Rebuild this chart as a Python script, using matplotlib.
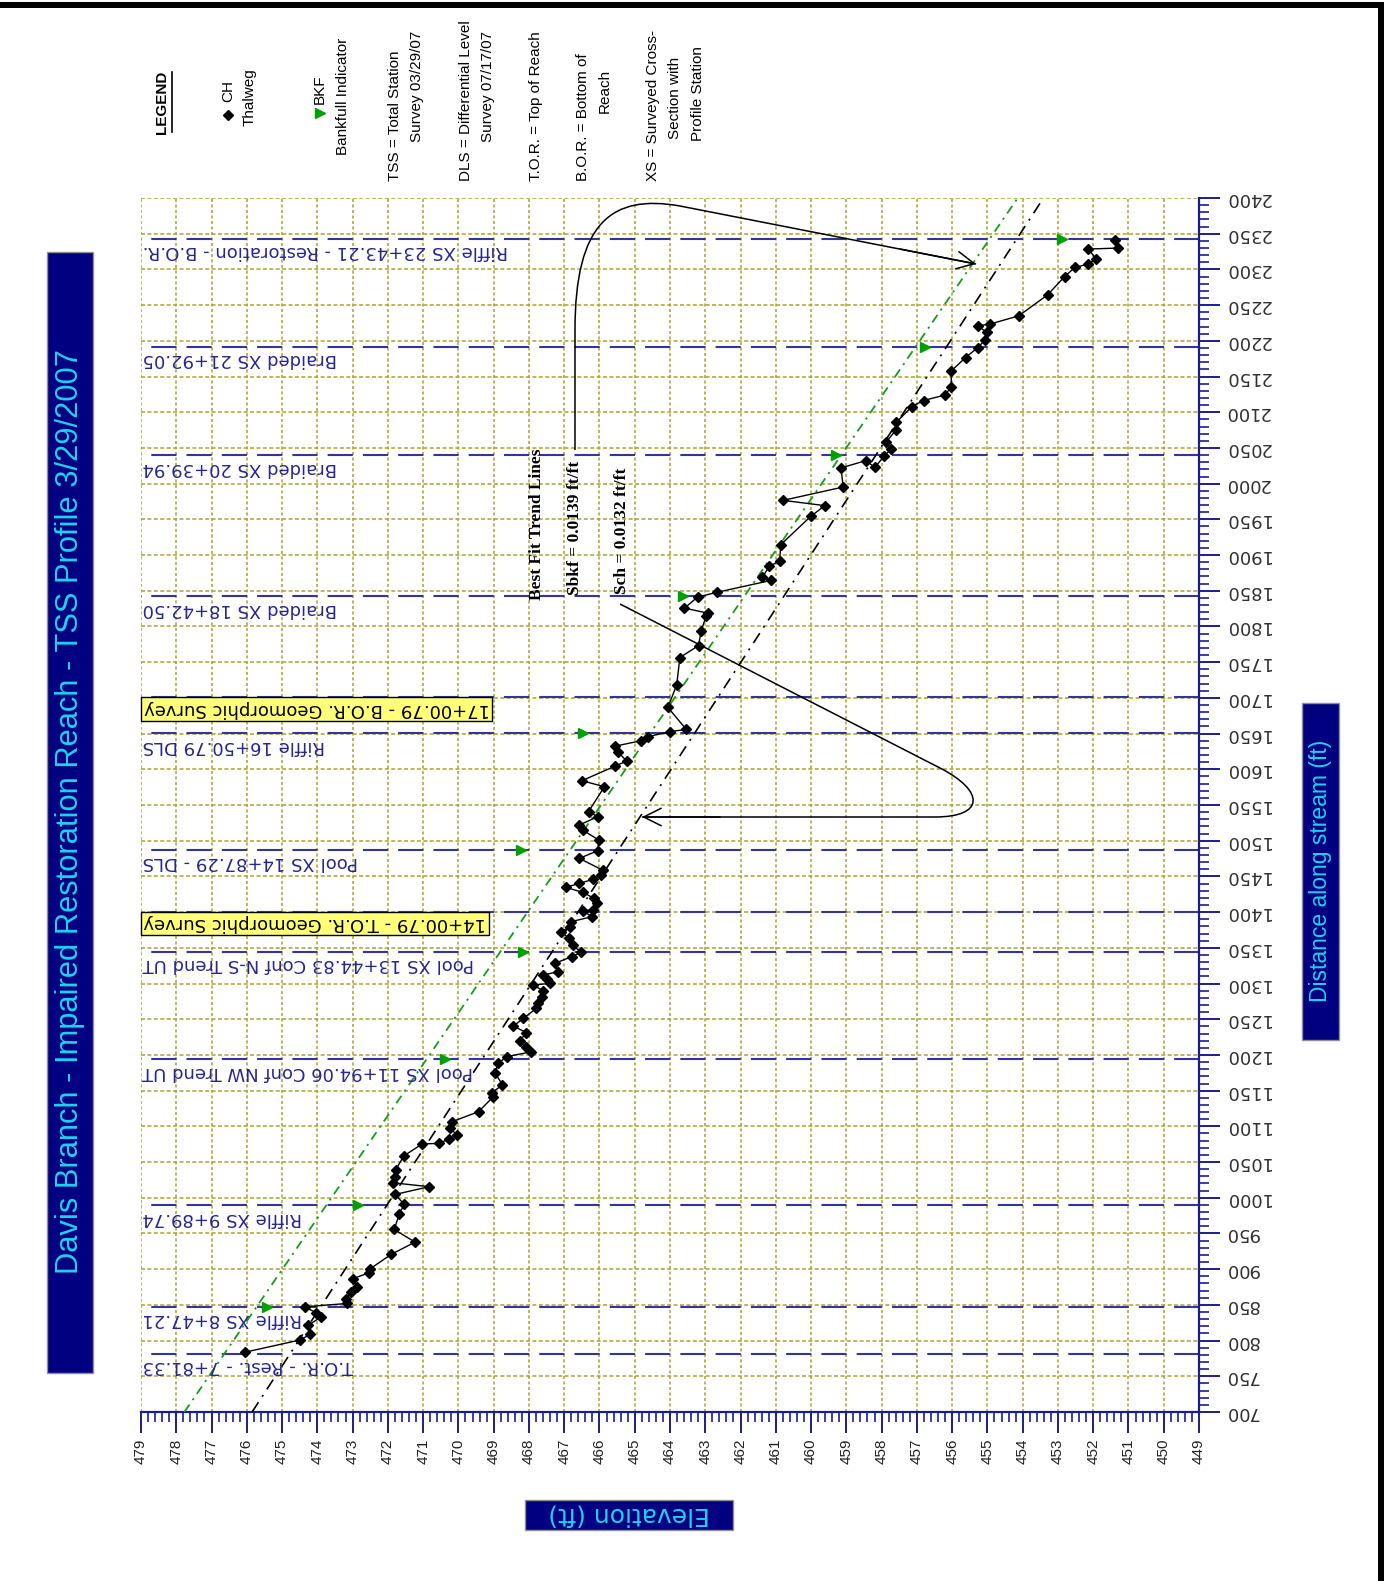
import matplotlib
matplotlib.use("Agg")
from matplotlib import pyplot as plt
from matplotlib.path import Path
from matplotlib.patches import PathPatch, Rectangle
from matplotlib.ticker import MultipleLocator

W, H = 1392, 1581

# thalweg (CH) survey points, upstream to downstream
ch_dist = [783.8, 800.7, 808.6, 821.2, 833.3, 838.9, 847.3, 852.0, 857.6, 867.9,
           875.3, 886.6, 895.0, 900.6, 920.6, 937.9, 955.6, 976.7, 990.7, 1004.7,
           1015.5, 1021.0, 1029.5, 1038.9, 1058.5, 1075.3, 1076.2, 1081.8, 1087.8, 1097.2,
           1106.5, 1120.5, 1141.5, 1147.1, 1157.8, 1175.1, 1188.2, 1197.5, 1204.5, 1211.5,
           1219.9, 1231.1, 1240.5, 1251.2, 1265.2, 1272.2, 1281.6, 1290.0, 1297.9, 1300.2,
           1305.8, 1311.9, 1316.6, 1328.2, 1337.7, 1343.5, 1354.0, 1363.3, 1372.6, 1379.6,
           1386.6, 1393.6, 1402.0, 1403.0, 1412.3, 1419.3, 1427.7, 1434.7, 1440.3, 1445.8,
           1452.0, 1458.8, 1475.2, 1486.0, 1500.9, 1515.0, 1522.0, 1533.6, 1540.7, 1575.6,
           1584.0, 1604.5, 1611.5, 1624.6, 1632.5, 1640.0, 1645.6, 1652.6, 1655.9, 1686.7,
           1718.2, 1756.5, 1773.3, 1793.0, 1814.0, 1818.7, 1825.7, 1841.1, 1847.7, 1864.5,
           1868.7, 1884.1, 1892.0, 1914.5, 1954.2, 1969.2, 1976.6, 1995.3, 2022.0, 2032.2,
           2022.9, 2038.3, 2048.6, 2058.4, 2075.7, 2086.0, 2108.0, 2116.4, 2124.3, 2136.0,
           2158.0, 2176.6, 2190.6, 2200.5, 2212.0, 2221.0, 2223.4, 2235.0, 2264.5, 2290.0,
           2302.8, 2307.5, 2315.0, 2328.5, 2329.9, 2341.6]
ch_elev = [476.05, 474.50, 474.20, 474.26, 473.89, 474.03, 474.36, 473.15, 473.20, 473.04,
           472.88, 472.99, 472.54, 472.50, 471.91, 471.23, 471.82, 471.68, 471.54, 471.79,
           470.83, 471.86, 471.81, 471.78, 471.55, 471.03, 470.56, 470.28, 470.04, 470.23,
           470.18, 469.43, 469.01, 469.06, 468.75, 468.96, 468.87, 468.63, 467.93, 468.07,
           468.26, 468.07, 468.44, 468.16, 467.79, 467.74, 467.64, 467.60, 467.88, 467.41,
           467.50, 467.60, 467.17, 467.27, 466.78, 466.52, 466.76, 466.86, 467.09, 466.84,
           466.81, 466.21, 466.48, 466.19, 466.08, 466.15, 466.48, 466.95, 466.57, 466.19,
           465.96, 465.91, 466.57, 466.05, 466.02, 466.48, 466.57, 466.05, 466.31, 465.86,
           466.50, 465.55, 465.23, 465.48, 465.55, 464.82, 464.63, 464.01, 463.54, 464.06,
           463.81, 463.72, 463.19, 463.12, 462.98, 462.93, 463.59, 463.22, 462.68, 461.14,
           461.38, 461.19, 460.89, 460.86, 460.01, 459.61, 460.79, 459.09, 459.15, 458.45,
           458.19, 457.93, 457.73, 457.87, 457.58, 457.58, 457.14, 456.81, 456.19, 456.03,
           456.02, 455.62, 455.27, 455.08, 455.02, 455.27, 454.93, 454.11, 453.29, 452.81,
           452.52, 452.14, 451.92, 452.14, 451.29, 451.38]

# bankfull indicators at the surveyed cross sections
bkf_dist = [847.21, 989.74, 1194.06, 1344.83, 1487.29, 1650.79, 1842.50, 2039.94, 2192.05, 2343.21]
bkf_elev = [475.44, 472.84, 470.38, 468.17, 468.23, 466.48, 463.64, 459.30, 456.76, 452.88]

# best fit trend lines
trend_span = [700, 2400]
bkf_start, bkf_slope = 477.77, 0.0139
ch_start, ch_slope = 475.85, 0.0132

# cross section / reach stations
xs_station = [781.33, 847.21, 989.74, 1194.06, 1344.83, 1400.79, 1487.29,
              1650.79, 1700.79, 1842.50, 2039.94, 2192.05, 2343.21]
xs_label = ["T.O.R. - Rest. - 7+81.33",
            "Riffle XS 8+47.21",
            "Riffle XS 9+89.74",
            "Pool XS 11+94.06 Conf NW Trend UT",
            "Pool XS 13+44.83 Conf N-S Trend UT",
            "14+00.79 - T.O.R. Geomorphic Survey",
            "Pool XS 14+87.29 - DLS",
            "Riffle 16+50.79 DLS",
            "17+00.79 - B.O.R. Geomorphic Survey",
            "Braided XS 18+42.50",
            "Braided XS 20+39.94",
            "Braided XS 21+92.05",
            "Riffle XS 23+43.21 - Restoration - B.O.R."]
xs_boxed = [5, 8]

NAVY = "#000080"
CYAN = "#1cd2f2"
AXIS = "#1c1c8e"
GRID = "#a8a232"
XS_LINE = "#34349c"
XS_TEXT = "#26268e"
BKF_GREEN = "#00a000"

fig = plt.figure(figsize=(W / 100, H / 100), dpi=100)

ax = fig.add_axes([141 / W, 1 - 1412 / H, (1199 - 141) / W, (1412 - 198) / H])
ax.set_xlim(479, 449)
ax.set_ylim(700, 2400)
ax.xaxis.set_major_locator(MultipleLocator(1))
ax.xaxis.set_minor_locator(MultipleLocator(0.2))
ax.yaxis.set_major_locator(MultipleLocator(50))
ax.yaxis.set_minor_locator(MultipleLocator(10))
ax.yaxis.tick_right()
for s in ("left", "top"):
    ax.spines[s].set_visible(False)
for s in ("right", "bottom"):
    ax.spines[s].set_color(AXIS)
    ax.spines[s].set_linewidth(1.6)
ax.tick_params(which="major", length=15, width=1.4, color=AXIS)
ax.tick_params(which="minor", length=7.5, width=1.2, color=AXIS)
ax.tick_params(axis="x", labelrotation=90, pad=4, labelsize=11,
               labelcolor="#202020", labelfontfamily="Liberation Sans")
ax.tick_params(axis="y", labelrotation=180, pad=3.5, labelsize=13,
               labelcolor="#303030", labelfontfamily="DejaVu Sans")
for t in ax.get_yticklabels():
    t.set_va("center")

ax.set_axisbelow(True)
ax.grid(axis="x", which="major", color=GRID, lw=1.1, linestyle=(0, (2.0, 1.6)))
ax.grid(axis="y", which="major", color=GRID, lw=1.1, linestyle=(0, (2.6, 1.6)))

# station lines with their labels
for i, (st, lbl) in enumerate(zip(xs_station, xs_label)):
    ax.axhline(st, color=XS_LINE, lw=1.5, linestyle=(12, (12.1, 4.83)), zorder=2)
    if i in xs_boxed:
        ax.annotate(lbl, xy=(479, st), xytext=(2, -8.5), textcoords="offset points",
                    rotation=180, ha="left", va="center", fontsize=13,
                    family="DejaVu Sans", color="black", zorder=4,
                    bbox=dict(boxstyle="square,pad=0.15", fc="#ffff7a", ec="black", lw=1))
    else:
        ax.annotate(lbl, xy=(479, st), xytext=(1, -9), textcoords="offset points",
                    rotation=180, ha="left", va="center", fontsize=13,
                    family="DejaVu Sans", color=XS_TEXT, zorder=4)

# trend lines
bkf_fit = [bkf_start - bkf_slope * (d - trend_span[0]) for d in trend_span]
ch_fit = [ch_start - ch_slope * (d - trend_span[0]) for d in trend_span]
ax.plot(bkf_fit, trend_span, color="#1a9a1a", lw=1.3, linestyle=(0, (5, 3, 1.2, 3)), zorder=3)
ax.plot(ch_fit, trend_span, color="black", lw=1.2, linestyle=(0, (7, 4, 1.2, 4)), zorder=3)

ax.plot(ch_elev, ch_dist, color="black", lw=1.0, marker="D", ms=5, zorder=5)
ax.plot(bkf_elev, bkf_dist, linestyle="none", marker=">", ms=7, color=BKF_GREEN, zorder=5)

# page furniture drawn in pixel coordinates
ov = fig.add_axes([0, 0, 1, 1], zorder=5)
ov.set_xlim(0, W)
ov.set_ylim(H, 0)
ov.axis("off")

ov.add_patch(Rectangle((0, 2), 1384, 6, fc="black", ec="none"))
ov.add_patch(Rectangle((1378, 2), 6, H, fc="black", ec="none"))

ov.add_patch(Rectangle((47, 252), 46, 1121, fc=NAVY, ec="#909090", lw=1))
ov.text(70, 812, "Davis Branch - Impaired Restoration Reach - TSS Profile 3/29/2007",
        rotation=90, ha="center", va="center", color=CYAN, fontsize=22.2,
        family="Liberation Sans")
ov.add_patch(Rectangle((1302, 703), 37, 337, fc=NAVY, ec="#909090", lw=1))
ov.text(1320, 871, "Distance along stream (ft)", rotation=90, ha="center", va="center",
        color=CYAN, fontsize=16.5, family="Liberation Sans")
ov.add_patch(Rectangle((525, 1500), 208, 30, fc=NAVY, ec="#909090", lw=1))
ov.text(629, 1515, "Elevation (ft)", rotation=180, ha="center", va="center",
        color=CYAN, fontsize=18, family="DejaVu Sans")

# legend
leg = dict(rotation=90, ha="center", va="center", fontsize=11,
           family="Liberation Sans", color="black")
ov.text(162, 102, "LEGEND", rotation=90, ha="center", va="center", fontsize=11,
        fontweight="bold", family="Liberation Sans")
ov.plot([172, 172], [72, 132], color="black", lw=1.2)
ov.plot(228, 115, marker="D", ms=5, color="black")
ov.text(228, 91, "CH", **leg)
ov.text(250, 97, "Thalweg", **leg)
ov.plot(320, 113, marker=">", ms=7, color=BKF_GREEN)
ov.text(320, 89, "BKF", **leg)
ov.text(343, 96, "Bankfull Indicator", **leg)
first = dict(leg, va="bottom")
ov.text(395, 181, "TSS = Total Station", **first)
ov.text(417, 86, "Survey 03/29/07", **leg)
ov.text(466, 181, "DLS = Differential Level", **first)
ov.text(488, 86, "Survey 07/17/07", **leg)
ov.text(536, 181, "T.O.R. = Top of Reach", **first)
ov.text(583, 181, "B.O.R. = Bottom of", **first)
ov.text(605, 91, "Reach", **leg)
ov.text(653, 181, "XS = Surveyed Cross-", **first)
ov.text(675, 98, "Section with", **leg)
ov.text(698, 94, "Profile Station", **leg)

# trend line notes and callouts
note = dict(rotation=90, ha="center", va="center", fontsize=12.5, fontweight="bold",
            family="Liberation Serif", color="black")
ov.text(537, 524, "Best Fit Trend Lines", **note)
ov.text(575, 528, "Sbkf = 0.0139 ft/ft", **note)
ov.text(622, 531, "Sch = 0.0132 ft/ft", **note)

call1 = Path([(575, 450), (575, 330), (575, 222), (612, 194), (680, 206), (976, 264)],
             [Path.MOVETO, Path.LINETO, Path.CURVE4, Path.CURVE4, Path.CURVE4, Path.LINETO])
call2 = Path([(620, 604), (940, 768), (985, 791), (985, 817), (935, 817), (642, 817)],
             [Path.MOVETO, Path.LINETO, Path.CURVE4, Path.CURVE4, Path.CURVE4, Path.LINETO])
for p in (call1, call2):
    ov.add_patch(PathPatch(p, fill=False, ec="black", lw=1.1))
arrow = dict(arrowstyle="->,head_length=0.7,head_width=0.35", color="black", lw=1.1,
             mutation_scale=18, shrinkA=0, shrinkB=0)
ov.annotate("", xy=(976, 264), xytext=(900, 249), arrowprops=arrow)
ov.annotate("", xy=(642, 817), xytext=(720, 817), arrowprops=arrow)

fig.savefig("out.png", dpi=100)
